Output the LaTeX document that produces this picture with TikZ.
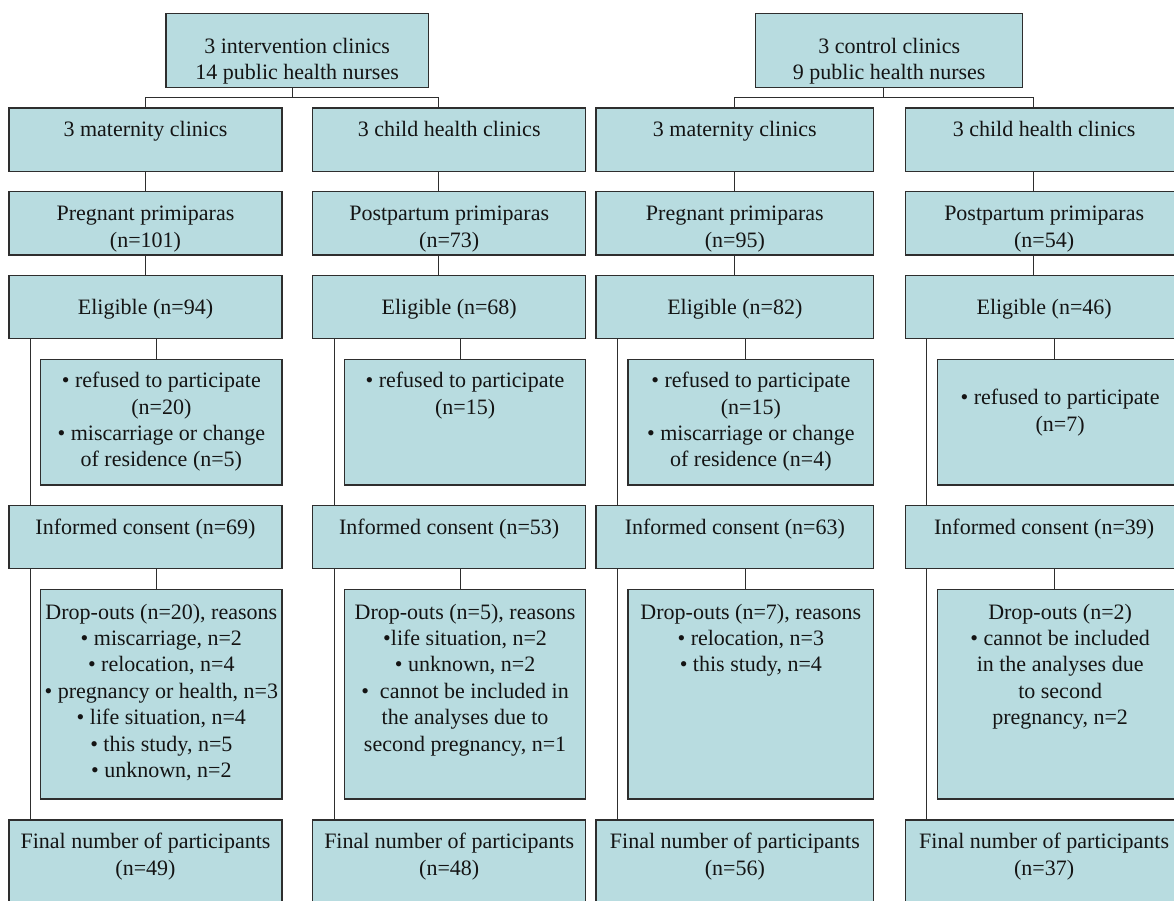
\documentclass[tikz,border=0pt]{standalone}
\usepackage{fontspec}
\setmainfont{Liberation Serif}
\definecolor{boxfill}{HTML}{B8DCE0}
\definecolor{boxline}{HTML}{2E2E2E}
\definecolor{txtcol}{HTML}{141414}
\newcommand\tb[4]{\parbox[c][#2pt][t]{#1pt}{\fontsize{22}{26.4}\selectfont\centering\vspace*{#3pt}\vspace*{2.5pt}\strut #4}}
\begin{document}
\begin{tikzpicture}[x=1pt,y=-1pt,
  box/.style={draw=boxline, fill=boxfill, line width=1.1pt, inner sep=0pt, outer sep=0pt, anchor=north west, text=txtcol},
  conn/.style={draw=boxline, line width=1pt}]
\useasboundingbox (0,0) rectangle (1174,901);
\clip (0,0) rectangle (1174,901);
\fill[white] (0,0) rectangle (1174,901);

% top boxes
\node[box] (topL) at (166,13.7) {\tb{262.3}{73.6}{18.5}{3 intervention clinics\\14 public health nurses}};
\node[box] (topR) at (755.7,13.7) {\tb{267}{73.6}{18.5}{3 control clinics\\9 public health nurses}};

% column 1
\node[box] (r1c1) at (9,108) {\tb{273}{63.3}{8}{3 maternity clinics}};
\node[box] (r2c1) at (9,191.7) {\tb{273}{63.3}{8}{Pregnant primiparas\\(n=101)}};
\node[box] (r3c1) at (9,275.3) {\tb{273}{63}{18}{Eligible (n=94)}};
\node[box] (s1c1) at (40.7,359.3) {\tb{241.3}{125.7}{7.5}{• refused to participate\\(n=20)\\• miscarriage or change\\of residence (n=5)}};
\node[box] (r4c1) at (9,505.7) {\tb{273}{63}{8}{Informed consent (n=69)}};
\node[box] (s2c1) at (40.7,589.7) {\tb{241.3}{209.3}{8.5}{Drop-outs (n=20), reasons\\• miscarriage, n=2\\• relocation, n=4\\• pregnancy or health, n=3\\• life situation, n=4\\• this study, n=5\\• unknown, n=2}};
\node[box] (r5c1) at (9,820) {\tb{273}{100}{8}{Final number of participants\\(n=49)}};

% column 2
\node[box] (r1c2) at (312.7,108) {\tb{273}{63.3}{8}{3 child health clinics}};
\node[box] (r2c2) at (312.7,191.7) {\tb{273}{63.3}{8}{Postpartum primiparas\\(n=73)}};
\node[box] (r3c2) at (312.7,275.3) {\tb{273}{63}{18}{Eligible (n=68)}};
\node[box] (s1c2) at (344.4,359.3) {\tb{241.3}{125.7}{7.5}{• refused to participate\\(n=15)}};
\node[box] (r4c2) at (312.7,505.7) {\tb{273}{63}{8}{Informed consent (n=53)}};
\node[box] (s2c2) at (344.4,589.7) {\tb{241.3}{209.3}{8.5}{Drop-outs (n=5), reasons\\•life situation, n=2\\• unknown, n=2\\•~ cannot be included in\\the analyses due to\\second pregnancy, n=1}};
\node[box] (r5c2) at (312.7,820) {\tb{273}{100}{8}{Final number of participants\\(n=48)}};

% column 3
\node[box] (r1c3) at (596,108) {\tb{277.7}{63.3}{8}{3 maternity clinics}};
\node[box] (r2c3) at (596,191.7) {\tb{277.7}{63.3}{8}{Pregnant primiparas\\(n=95)}};
\node[box] (r3c3) at (596,275.3) {\tb{277.7}{63}{18}{Eligible (n=82)}};
\node[box] (s1c3) at (628,359.3) {\tb{245.7}{125.7}{7.5}{• refused to participate\\(n=15)\\• miscarriage or change\\of residence (n=4)}};
\node[box] (r4c3) at (596,505.7) {\tb{277.7}{63}{8}{Informed consent (n=63)}};
\node[box] (s2c3) at (628,589.7) {\tb{245.7}{209.3}{8.5}{Drop-outs (n=7), reasons\\• relocation, n=3\\• this study, n=4}};
\node[box] (r5c3) at (596,820) {\tb{277.7}{100}{8}{Final number of participants\\(n=56)}};

% column 4
\node[box] (r1c4) at (905.3,108) {\tb{277.7}{63.3}{8}{3 child health clinics}};
\node[box] (r2c4) at (905.3,191.7) {\tb{277.7}{63.3}{8}{Postpartum primiparas\\(n=54)}};
\node[box] (r3c4) at (905.3,275.3) {\tb{277.7}{63}{18}{Eligible (n=46)}};
\node[box] (s1c4) at (937.3,359.3) {\tb{245.7}{125.7}{24.5}{• refused to participate\\(n=7)}};
\node[box] (r4c4) at (905.3,505.7) {\tb{277.7}{63}{8}{Informed consent (n=39)}};
\node[box] (s2c4) at (937.3,589.7) {\tb{245.7}{209.3}{8.5}{Drop-outs (n=2)\\• cannot be included\\in the analyses due\\to second\\pregnancy, n=2}};
\node[box] (r5c4) at (905.3,820) {\tb{277.7}{100}{8}{Final number of participants\\(n=37)}};

% connector x positions
\coordinate (a1) at (145.3,0);
\coordinate (a2) at (438.7,0);
\coordinate (a3) at (734.3,0);
\coordinate (a4) at (1033,0);
\coordinate (b1) at (156,0);
\coordinate (b2) at (460,0);
\coordinate (b3) at (745,0);
\coordinate (b4) at (1054.7,0);
\coordinate (t1) at (30.3,0);
\coordinate (t2) at (334,0);
\coordinate (t3) at (617.3,0);
\coordinate (t4) at (926.7,0);
\coordinate (brL) at (292,97.3);
\coordinate (brR) at (883.7,97.3);

% brackets
\draw[conn] (topL.south -| brL) -- (brL);
\draw[conn] (r1c1.north -| a1) |- (brL) -| (r1c2.north -| a2);
\draw[conn] (topR.south -| brR) -- (brR);
\draw[conn] (r1c3.north -| a3) |- (brR) -| (r1c4.north -| a4);

\foreach \i in {1,2,3,4}{
  \draw[conn] (r1c\i.south -| a\i) -- (r2c\i.north -| a\i);
  \draw[conn] (r2c\i.south -| a\i) -- (r3c\i.north -| a\i);
  \draw[conn] (r3c\i.south -| b\i) -- (s1c\i.north -| b\i);
  \draw[conn] (r4c\i.south -| b\i) -- (s2c\i.north -| b\i);
  \draw[conn] (r3c\i.south -| t\i) -- (r4c\i.north -| t\i);
  \draw[conn] (r4c\i.south -| t\i) -- (r5c\i.north -| t\i);
}
\end{tikzpicture}
\end{document}
